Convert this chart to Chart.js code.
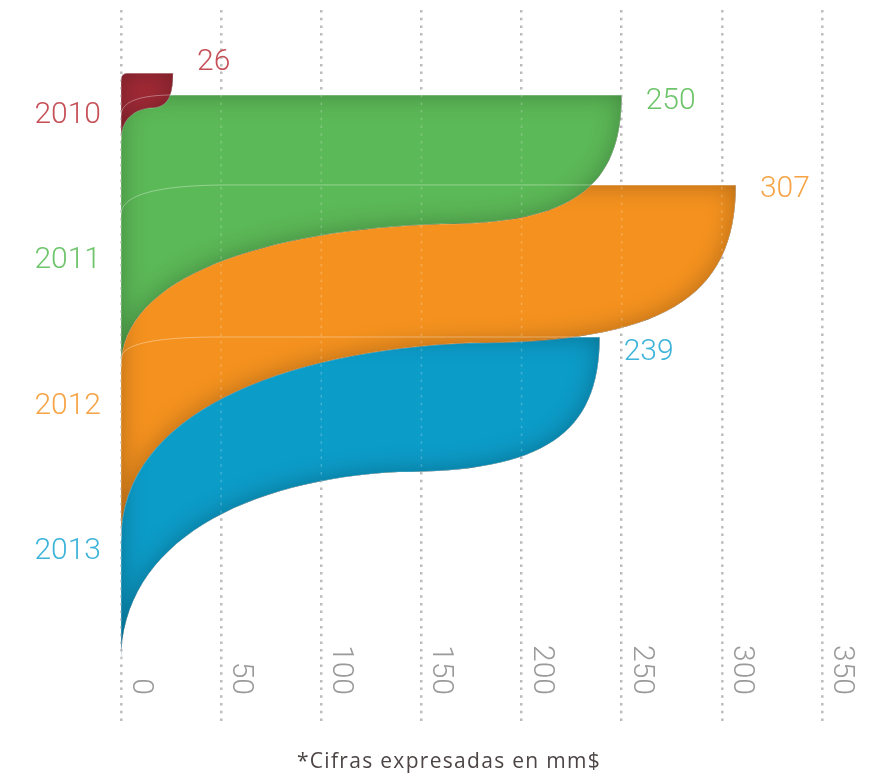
<!DOCTYPE html>
<html lang="es">
<head>
<meta charset="UTF-8">
<title>Cifras 2010 - 2013</title>
<script src="https://cdn.jsdelivr.net/npm/chart.js@4.4.1/dist/chart.umd.min.js"></script>
<style>
  html, body { margin: 0; padding: 0; background: #fff; }
  #wrap { position: relative; width: 872px; height: 778px; }
  #note {
    position: absolute; left: 26px; width: 846px; top: 747px;
    text-align: center; font-family: "Open Sans", sans-serif; font-size: 21px;
    letter-spacing: 1.3px; color: #4d4545; line-height: 26px;
  }
</style>
</head>
<body>
<div id="wrap">
  <canvas id="chart" width="872" height="778"></canvas>
  <div id="note">*Cifras expresadas en mm$</div>
</div>
<script>
// data
const years = ['2010', '2011', '2012', '2013'];
const amounts = [26, 250, 307, 239];
const xTicks = [0, 50, 100, 150, 200, 250, 300, 350];

// colours
const fillColors = ['#a42b37', '#5cb957', '#f5921f', '#0c9cc8'];
const textColors = ['#c64f57', '#6dc46a', '#f6a446', '#3cb3d9'];

// ribbon outline (y in axis units, x as share of the value / value units)
const ribbonShape = [
  { top: -0.288, turn: -0.048, bottom: 0.171, turnAt: 0.56, cornerX: 3.5, cornerY: 0.048, labelDy: -11 },
  { top: -0.138, turn: 0.748, bottom: 1.730, turnAt: 0.64, cornerX: 27, cornerY: 0.144, labelDy: 7 },
  { top: 0.480, turn: 1.565, bottom: 2.917, turnAt: 0.567, cornerX: 55, cornerY: 0.206, labelDy: 5 },
  { top: 1.524, turn: 2.451, bottom: 3.755, turnAt: 0.58, cornerX: 50, cornerY: 0.151, labelDy: 16 }
];

const numFont = '300 30px Roboto';

function ribbonPath(xs, ys, bar, i) {
  const s = ribbonShape[i];
  const x0 = xs.getPixelForValue(0);
  const xr = bar.x;
  const xm = xs.getPixelForValue(amounts[i] * s.turnAt);
  const cw = xs.getPixelForValue(s.cornerX) - x0;
  const yt = ys.getPixelForValue(s.top);
  const ym = ys.getPixelForValue(s.turn);
  const yb = ys.getPixelForValue(s.bottom);
  const ch = ys.getPixelForValue(s.top + s.cornerY) - yt;

  const body = new Path2D();
  body.moveTo(x0, yb);
  body.lineTo(x0, yt + ch);
  body.bezierCurveTo(x0, yt + ch * 0.3, x0 + cw * 0.35, yt, x0 + cw, yt);
  body.lineTo(xr, yt);
  body.bezierCurveTo(xr, yt + (ym - yt) * 0.72, xm + (xr - xm) * 0.72, ym, xm, ym);
  body.bezierCurveTo(xm - (xm - x0) * 0.54, ym + (yb - ym) * 0.04, x0, ym + (yb - ym) * 0.36, x0, yb);
  body.closePath();

  // top edge, shows faintly through the ribbon in front
  const edge = new Path2D();
  edge.moveTo(x0, yt + ch);
  edge.bezierCurveTo(x0, yt + ch * 0.3, x0 + cw * 0.35, yt, x0 + cw, yt);
  edge.lineTo(xr, yt);

  return { body: body, edge: edge, xr: xr, yt: yt };
}

const ribbons = {
  id: 'ribbons',
  afterDatasetsDraw(chart) {
    const ctx = chart.ctx;
    const xs = chart.scales.x, ys = chart.scales.y;
    const area = chart.chartArea;
    const bars = chart.getDatasetMeta(0).data;
    const shapes = bars.map((bar, i) => ribbonPath(xs, ys, bar, i));

    ctx.save();
    // back to front: the latest year sits behind
    for (let i = shapes.length - 1; i >= 0; i--) {
      ctx.fillStyle = fillColors[i];
      ctx.fill(shapes[i].body);

      // soft darker rim inside the ribbon
      ctx.save();
      ctx.clip(shapes[i].body);
      ctx.shadowColor = 'rgba(0,0,0,0.28)';
      ctx.shadowBlur = 26;
      const hole = new Path2D();
      hole.rect(-2000, -2000, 5000, 5000);
      hole.addPath(shapes[i].body);
      ctx.fillStyle = '#000';
      ctx.fill(hole, 'evenodd');
      ctx.restore();

      ctx.strokeStyle = 'rgba(255,255,255,0.3)';
      ctx.lineWidth = 1;
      ctx.stroke(shapes[i].body);
    }

    ctx.strokeStyle = 'rgba(255,255,255,0.35)';
    ctx.lineWidth = 1;
    shapes.forEach(s => ctx.stroke(s.edge));

    // grid dots show faintly over the ribbons
    ctx.strokeStyle = 'rgba(255,255,255,0.22)';
    ctx.lineWidth = 1.5;
    ctx.setLineDash([2.5, 5.2]);
    xs.ticks.forEach(t => {
      const px = xs.getPixelForValue(t.value);
      ctx.beginPath();
      ctx.moveTo(px, area.top);
      ctx.lineTo(px, area.bottom);
      ctx.stroke();
    });
    ctx.setLineDash([]);

    // value labels
    ctx.font = numFont;
    ctx.textAlign = 'left';
    ctx.textBaseline = 'middle';
    shapes.forEach((s, i) => {
      ctx.fillStyle = textColors[i];
      ctx.fillText(String(amounts[i]), s.xr + 24, s.yt + ribbonShape[i].labelDy);
    });

    // x tick labels, turned clockwise
    ctx.fillStyle = '#9a9a9a';
    ctx.textAlign = 'right';
    ctx.textBaseline = 'alphabetic';
    xs.ticks.forEach(t => {
      const px = xs.getPixelForValue(t.value);
      ctx.save();
      ctx.translate(px + 12, area.bottom - 30);
      ctx.rotate(Math.PI / 2);
      ctx.fillText(String(t.value), 0, 0);
      ctx.restore();
    });
    ctx.restore();
  }
};

new Chart(document.getElementById('chart'), {
  type: 'bar',
  data: {
    datasets: [{
      label: 'mm$',
      data: amounts.map((v, i) => ({ x: v, y: i })),
      backgroundColor: 'rgba(0,0,0,0)',
      borderWidth: 0
    }]
  },
  options: {
    indexAxis: 'y',
    responsive: false,
    animation: false,
    layout: { padding: { top: 10, right: 50, bottom: 53, left: 26 } },
    scales: {
      x: {
        type: 'linear',
        min: 0,
        max: 350,
        afterBuildTicks: s => { s.ticks = xTicks.map(v => ({ value: v })); },
        ticks: { display: false },
        grid: { color: '#b3b3b3', lineWidth: 2.5, drawTicks: false },
        border: { display: false, dash: [2.5, 5.2] },
        afterFit: s => { s.height = 0; s.paddingLeft = 0; s.paddingRight = 0; }
      },
      y: {
        type: 'linear',
        reverse: true,
        offset: false,
        bounds: 'data',
        min: -0.721,
        max: 4.188,
        afterBuildTicks: s => { s.ticks = years.map((y, i) => ({ value: i })); },
        ticks: {
          padding: 20,
          autoSkip: false,
          color: c => textColors[c.index],
          font: { family: 'Roboto', size: 30, weight: '300' },
          callback: (v, i) => years[i]
        },
        grid: { display: false, drawTicks: false, offset: false },
        border: { display: false },
        afterFit: s => { s.width = 95; s.paddingTop = 0; s.paddingBottom = 0; }
      }
    },
    plugins: {
      legend: { display: false },
      title: { display: false }
    }
  },
  plugins: [ribbons]
});
</script>
</body>
</html>
